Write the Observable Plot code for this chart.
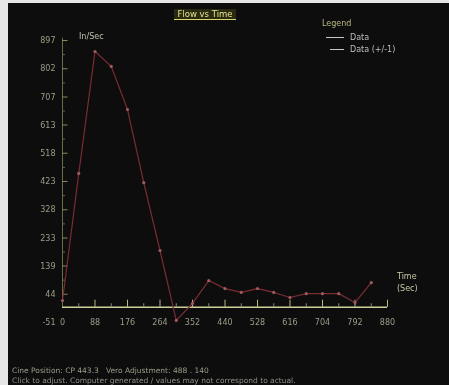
<!DOCTYPE html>
<html>
<head>
<meta charset="utf-8">
<script src="https://cdn.jsdelivr.net/npm/d3@7"></script>
<script src="https://cdn.jsdelivr.net/npm/@observablehq/plot@0.6"></script>
<style>
  html, body { margin: 0; padding: 0; background: #e6e6e6; width: 449px; height: 385px; overflow: hidden; }
  #panel { position: absolute; left: 8px; top: 3px; width: 441px; height: 382px; background: #0d0d0d; overflow: hidden;
           font-family: "DejaVu Sans", sans-serif; filter: blur(0.35px); }
  #chart { position: absolute; left: 0; top: 0; }
  .ov { position: absolute; white-space: nowrap; font-size: 8px; line-height: 10px; }
  #title { left: 0; width: 394px; top: 6px; text-align: center; }
  #title span { color: #e4e48c; background: #2a2a12; border-bottom: 1px solid #d6d66a; padding: 0 3px; font-size: 8.5px; }
  #legend { left: 314px; top: 16px; color: #b9b982; }
  .legrow { position: absolute; white-space: nowrap; font-size: 8px; color: #bdbdbd; }
  .legrow i { display: inline-block; width: 18px; height: 0; border-top: 1px solid #c8c8c8; vertical-align: middle; margin-right: 6px; position: relative; }
  #unit { left: 71px; top: 29px; color: #c2c2b0; }
  #tlab { left: 389px; top: 268px; color: #c9c9a0; line-height: 12px; }
  #foot1 { left: 4px; top: 363px; color: #9c9c8a; font-size: 7.5px; }
  #foot2 { left: 4px; top: 373px; color: #8e8e86; font-size: 7.5px; }
</style>
</head>
<body>
<div id="panel">
  <div id="chart"></div>
  <div class="ov" id="title"><span>Flow vs Time</span></div>
  <div class="ov" id="legend">Legend</div>
  <div class="legrow" style="left:318px;top:30px"><i></i>Data</div>
  <div class="legrow" style="left:318px;top:42px"><i style="width:14px;margin-left:4px"></i>Data (+/-1)</div>
  <div class="ov" id="unit">In/Sec</div>
  <div class="ov" id="tlab">Time<br>(Sec)</div>
  <div class="ov" id="foot1">Cine Position: CP 443.3 &nbsp; Vero Adjustment: 488 . 140</div>
  <div class="ov" id="foot2">Click to adjust. Computer generated / values may not correspond to actual.</div>
</div>
<script>
const times = [0, 44, 88, 132, 176, 220, 264, 308, 352, 396, 440, 484, 528, 572, 616, 660, 704, 748, 792, 836];
const flow  = [23, 450, 860, 810, 665, 419, 191, -44, 13, 90, 63, 50, 63, 50, 33, 46, 46, 46, 16, 83];
const yTicks = [-51, 44, 139, 233, 328, 423, 518, 613, 707, 802, 897];
const xTicks = [0, 88, 176, 264, 352, 440, 528, 616, 704, 792, 880];

const data = times.map((t, i) => ({t, v: flow[i]}));
const yMinor = yTicks.slice(0, -1).map((d, i) => (d + yTicks[i + 1]) / 2);
const xMinor = xTicks.slice(0, -1).map((d, i) => (d + xTicks[i + 1]) / 2);

const chart = Plot.plot({
  width: 441,
  height: 382,
  marginLeft: 54,
  marginRight: 62,
  marginTop: 37,
  marginBottom: 63,
  style: {background: "transparent", fontFamily: "DejaVu Sans, sans-serif", fontSize: "8px", overflow: "visible"},
  x: {domain: [0, 880]},
  y: {domain: [-51, 897]},
  marks: [
    Plot.axisY(yTicks, {tickSize: 0, tickPadding: 7, color: "#9c9c88", tickFormat: d => String(d), label: null}),
    Plot.axisX({ticks: [], label: null, tickSize: 0}),
    Plot.ruleX([0], {y1: 0, y2: 905, stroke: "#6c6c44", strokeWidth: 1}),
    Plot.ruleY(yTicks.filter(d => d >= 0), {x1: 0, x2: 15, stroke: "#8a8a60"}),
    Plot.ruleY(yMinor.filter(d => d >= 0), {x1: 0, x2: 8, stroke: "#6a6a4a"}),
    Plot.ruleY([0], {x1: 0, x2: 880, stroke: "#cfcf9c", strokeWidth: 1.5}),
    Plot.ruleX(xTicks.slice(1), {y1: 0, y2: 24, stroke: "#b8b888"}),
    Plot.ruleX(xMinor, {y1: 0, y2: 12, stroke: "#8a8a66"}),
    Plot.text(xTicks, {x: d => d, y: -51, text: d => String(d), fill: "#9c9c88", fontSize: 8}),
    Plot.line(data, {x: "t", y: "v", stroke: "#7a2c34", strokeWidth: 1.2}),
    Plot.dot(data, {x: "t", y: "v", r: 1.6, fill: "#a05a5e", stroke: "none"})
  ]
});
document.getElementById("chart").appendChild(chart);
</script>
</body>
</html>
